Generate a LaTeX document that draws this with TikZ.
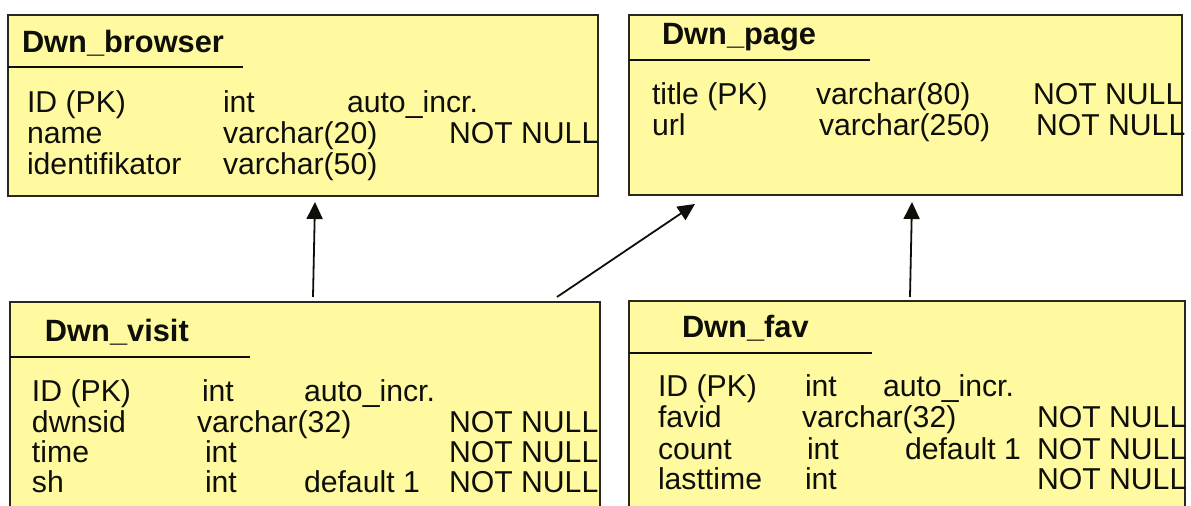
\documentclass[tikz,border=0pt]{standalone}
\usepackage{fontspec}
\setmainfont{Liberation Sans}
\usetikzlibrary{arrows.meta}

\definecolor{tblfill}{RGB}{255,250,160}
\definecolor{tblline}{RGB}{40,40,30}
\definecolor{ink}{RGB}{15,15,10}

\tikzset{
  tbl/.style={draw=tblline, fill=tblfill, line width=1pt, rectangle,
    anchor=north west, inner sep=0pt, outer sep=0pt},
  hline/.style={draw=ink, line width=0.7pt},
  txt/.style={anchor=base west, inner sep=0pt, outer sep=0pt, text=ink,
    font=\fontsize{15.1}{17}\selectfont},
  ttl/.style={txt, font=\fontsize{15.4}{17}\selectfont\bfseries},
  rel/.style={draw=ink, line width=0.9pt,
    -{Triangle[length=8.5pt,width=8pt]}},
}

% one text cell of a table: name, x, y (baseline), text
\newcommand{\cell}[4]{\node[txt] (#1) at (#2,#3) {#4};}

\begin{document}
\begin{tikzpicture}[x=0.5pt,y=-0.5pt]
  \clip (0,0) rectangle (1191,506);
  \fill[white] (0,0) rectangle (1191,506);

  % ---- table boxes ----
  \node[tbl, minimum width=295pt, minimum height=90.5pt] (browser) at (8,15) {};
  \node[tbl, minimum width=276.5pt, minimum height=90pt] (page) at (629,15) {};
  \node[tbl, minimum width=295pt, minimum height=109pt] (visit) at (10,302) {};
  \node[tbl, minimum width=278pt, minimum height=109.5pt] (fav) at (629,301) {};

  % ---- header rules ----
  \draw[hline] (8,67) -- (243,67);
  \draw[hline] (629,60) -- (870,60);
  \draw[hline] (10,357) -- (250,357);
  \draw[hline] (629,353) -- (872,353);

  % ---- Dwn_browser ----
  \node[ttl] (browserT) at (22,53) {Dwn\_browser};
  \cell{b11}{27}{113}{ID (PK)}
  \cell{b12}{223}{113}{int}
  \cell{b13}{347}{113}{auto\_incr.}
  \cell{b21}{27}{144}{name}
  \cell{b22}{223}{144}{varchar(20)}
  \cell{b24}{449}{144}{NOT NULL}
  \cell{b31}{27}{175}{identifikator}
  \cell{b32}{223}{175}{varchar(50)}

  % ---- Dwn_page ----
  \node[ttl] (pageT) at (662,45) {Dwn\_page};
  \cell{p11}{652}{105}{title (PK)}
  \cell{p12}{816}{105}{varchar(80)}
  \cell{p14}{1033}{105}{NOT NULL}
  \cell{p21}{652}{136}{url}
  \cell{p22}{819}{136}{varchar(250)}
  \cell{p24}{1036}{136}{NOT NULL}

  % ---- Dwn_visit ----
  \node[ttl] (visitT) at (45,342) {Dwn\_visit};
  \cell{v11}{32}{402}{ID (PK)}
  \cell{v12}{202}{402}{int}
  \cell{v13}{304}{402}{auto\_incr.}
  \cell{v21}{32}{433}{dwnsid}
  \cell{v22}{197}{433}{varchar(32)}
  \cell{v24}{449}{433}{NOT NULL}
  \cell{v31}{32}{463}{time}
  \cell{v32}{205}{463}{int}
  \cell{v34}{449}{463}{NOT NULL}
  \cell{v41}{32}{493}{sh}
  \cell{v42}{205}{493}{int}
  \cell{v43}{304}{493}{default 1}
  \cell{v44}{449}{493}{NOT NULL}

  % ---- Dwn_fav ----
  \node[ttl] (favT) at (682,338) {Dwn\_fav};
  \cell{f11}{658}{397}{ID (PK)}
  \cell{f12}{805}{397}{int}
  \cell{f13}{883}{397}{auto\_incr.}
  \cell{f21}{658}{428}{favid}
  \cell{f22}{802}{428}{varchar(32)}
  \cell{f24}{1037}{428}{NOT NULL}
  \cell{f31}{658}{460}{count}
  \cell{f32}{807}{460}{int}
  \cell{f33}{905}{460}{default 1}
  \cell{f34}{1037}{460}{NOT NULL}
  \cell{f41}{658}{490}{lasttime}
  \cell{f42}{805}{490}{int}
  \cell{f44}{1037}{490}{NOT NULL}

  % ---- relation end points ----
  \coordinate (visitToBrowser) at (313,297);
  \coordinate (browserFromVisit) at (315,202);
  \coordinate (visitToPage) at (557,297);
  \coordinate (pageFromVisit) at (695,204);
  \coordinate (favToPage) at (910,297);
  \coordinate (pageFromFav) at (912,202);

  % ---- relations ----
  \draw[rel] (visitToBrowser) -- (browserFromVisit);
  \draw[rel] (visitToPage) -- (pageFromVisit);
  \draw[rel] (favToPage) -- (pageFromFav);
\end{tikzpicture}
\end{document}
